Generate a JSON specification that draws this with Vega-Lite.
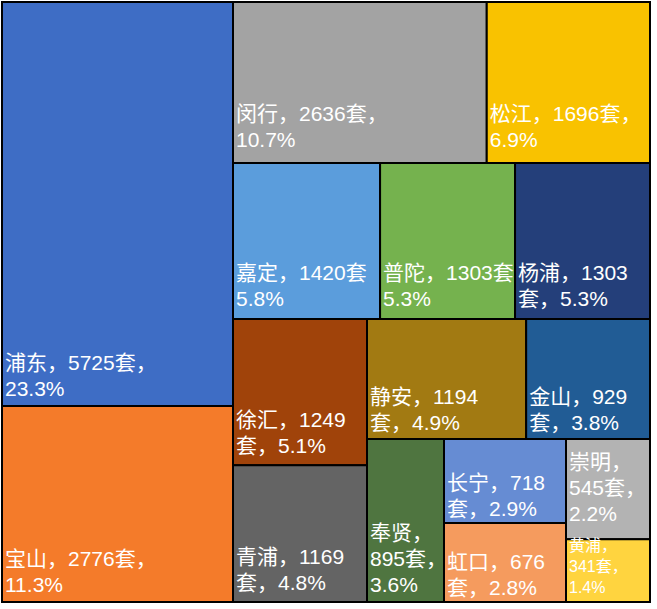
{
  "$schema": "https://vega.github.io/schema/vega-lite/v6.json",
  "padding": {"left": 1, "top": 1, "right": 0, "bottom": 0},
  "background": "white",
  "config": {"view": {"stroke": null}, "concat": {"spacing": 0}},
  "datasets": {
    "d": [
      {"name": "浦东", "strip": "A", "count": 5725, "label": "浦东，5725套，\n23.3%"},
      {"name": "宝山", "strip": "A", "count": 2776, "label": "宝山，2776套，\n11.3%"},
      {"name": "闵行", "strip": "B", "count": 2636, "label": "闵行，2636套，\n10.7%"},
      {"name": "松江", "strip": "B", "count": 1696, "label": "松江，1696套，\n6.9%"},
      {"name": "嘉定", "strip": "C", "count": 1420, "label": "嘉定，1420套\n5.8%"},
      {"name": "普陀", "strip": "C", "count": 1303, "label": "普陀，1303套\n5.3%"},
      {"name": "杨浦", "strip": "C", "count": 1303, "label": "杨浦，1303\n套，5.3%"},
      {"name": "徐汇", "strip": "D", "count": 1249, "label": "徐汇，1249\n套，5.1%"},
      {"name": "青浦", "strip": "D", "count": 1169, "label": "青浦，1169\n套，4.8%"},
      {"name": "静安", "strip": "E", "count": 1194, "label": "静安，1194\n套，4.9%"},
      {"name": "金山", "strip": "E", "count": 929, "label": "金山，929\n套，3.8%"},
      {"name": "奉贤", "strip": "F", "count": 895, "label": "奉贤，\n895套，\n3.6%"},
      {"name": "长宁", "strip": "G", "count": 718, "label": "长宁，718\n套，2.9%"},
      {"name": "虹口", "strip": "G", "count": 676, "label": "虹口，676\n套，2.8%"},
      {"name": "崇明", "strip": "H", "count": 545, "label": "崇明，\n545套，\n2.2%"},
      {"name": "黄浦", "strip": "H", "count": 341, "label": "黄浦，\n341套，\n1.4%"}
    ]
  },
  "data": {"name": "d"},
  "spacing": 0,
  "bounds": "flush",
  "hconcat": [
    {
      "width": 231, "height": 600,
      "transform": [{"filter": "datum.strip === 'A'"}, {"stack": "count", "groupby": ["strip"], "sort": [{"field": "count", "order": "descending"}, {"field": "name", "order": "ascending"}], "offset": "normalize", "as": ["v0", "v1"]}],
      "layer": [
        {"mark": {"type": "rect", "stroke": "#000", "strokeWidth": 2},
         "encoding": {"x": {"datum": 0, "type": "quantitative", "scale": {"domain": [0, 1]}, "axis": null}, "x2": {"datum": 1},
           "y": {"field": "v0", "type": "quantitative", "scale": {"domain": [0, 1], "reverse": true}, "axis": null}, "y2": {"field": "v1"},
           "color": {"field": "name", "type": "nominal", "legend": null, "scale": {"domain": ["浦东","宝山","闵行","松江","嘉定","普陀","杨浦","徐汇","青浦","静安","金山","奉贤","长宁","虹口","崇明","黄浦"], "range": ["#3E6DC5","#F47B2A","#A3A3A3","#F9C200","#5B9DDC","#75B24E","#243F7A","#A0430A","#646464","#A27A12","#215C95","#4F7540","#668CD3","#F59B5E","#B3B3B3","#FFD43F"]}}}},
        {"mark": {"type": "text", "color": "#fff", "align": "left", "baseline": "bottom", "dx": 3, "dy": -32, "fontSize": 21, "lineHeight": 26, "lineBreak": "\n", "font": "Liberation Sans, Noto Sans CJK SC"},
         "encoding": {"x": {"datum": 0, "type": "quantitative"}, "y": {"field": "v1", "type": "quantitative"}, "text": {"field": "label"}}}
      ]
    },
    {
      "spacing": 0, "bounds": "flush",
      "vconcat": [
        {
          "width": 417, "height": 161,
          "transform": [{"filter": "datum.strip === 'B'"}, {"stack": "count", "groupby": ["strip"], "sort": [{"field": "count", "order": "descending"}, {"field": "name", "order": "ascending"}], "offset": "normalize", "as": ["v0", "v1"]}],
          "layer": [
            {"mark": {"type": "rect", "stroke": "#000", "strokeWidth": 2},
             "encoding": {"x": {"field": "v0", "type": "quantitative", "scale": {"domain": [0, 1]}, "axis": null}, "x2": {"field": "v1"},
               "y": {"datum": 0, "type": "quantitative", "scale": {"domain": [0, 1]}, "axis": null}, "y2": {"datum": 1},
               "color": {"field": "name", "type": "nominal", "legend": null, "scale": {"domain": ["浦东","宝山","闵行","松江","嘉定","普陀","杨浦","徐汇","青浦","静安","金山","奉贤","长宁","虹口","崇明","黄浦"], "range": ["#3E6DC5","#F47B2A","#A3A3A3","#F9C200","#5B9DDC","#75B24E","#243F7A","#A0430A","#646464","#A27A12","#215C95","#4F7540","#668CD3","#F59B5E","#B3B3B3","#FFD43F"]}}}},
            {"mark": {"type": "text", "color": "#fff", "align": "left", "baseline": "bottom", "dx": 3, "dy": -38, "fontSize": 21, "lineHeight": 26, "lineBreak": "\n", "font": "Liberation Sans, Noto Sans CJK SC"},
             "encoding": {"x": {"field": "v0", "type": "quantitative"}, "y": {"datum": 0, "type": "quantitative"}, "text": {"field": "label"}}}
          ]
        },
        {
          "width": 417, "height": 156,
          "transform": [{"filter": "datum.strip === 'C'"}, {"stack": "count", "groupby": ["strip"], "sort": [{"field": "count", "order": "descending"}, {"field": "name", "order": "ascending"}], "offset": "normalize", "as": ["v0", "v1"]}],
          "layer": [
            {"mark": {"type": "rect", "stroke": "#000", "strokeWidth": 2},
             "encoding": {"x": {"field": "v0", "type": "quantitative", "scale": {"domain": [0, 1]}, "axis": null}, "x2": {"field": "v1"},
               "y": {"datum": 0, "type": "quantitative", "scale": {"domain": [0, 1]}, "axis": null}, "y2": {"datum": 1},
               "color": {"field": "name", "type": "nominal", "legend": null, "scale": {"domain": ["浦东","宝山","闵行","松江","嘉定","普陀","杨浦","徐汇","青浦","静安","金山","奉贤","长宁","虹口","崇明","黄浦"], "range": ["#3E6DC5","#F47B2A","#A3A3A3","#F9C200","#5B9DDC","#75B24E","#243F7A","#A0430A","#646464","#A27A12","#215C95","#4F7540","#668CD3","#F59B5E","#B3B3B3","#FFD43F"]}}}},
            {"mark": {"type": "text", "color": "#fff", "align": "left", "baseline": "bottom", "dx": 3, "dy": -35, "fontSize": 21, "lineHeight": 26, "lineBreak": "\n", "font": "Liberation Sans, Noto Sans CJK SC"},
             "encoding": {"x": {"field": "v0", "type": "quantitative"}, "y": {"datum": 0, "type": "quantitative"}, "text": {"field": "label"}}}
          ]
        },
        {
          "spacing": 0, "bounds": "flush",
          "hconcat": [
            {
              "width": 134, "height": 283,
              "transform": [{"filter": "datum.strip === 'D'"}, {"stack": "count", "groupby": ["strip"], "sort": [{"field": "count", "order": "descending"}, {"field": "name", "order": "ascending"}], "offset": "normalize", "as": ["v0", "v1"]}],
              "layer": [
                {"mark": {"type": "rect", "stroke": "#000", "strokeWidth": 2},
                 "encoding": {"x": {"datum": 0, "type": "quantitative", "scale": {"domain": [0, 1]}, "axis": null}, "x2": {"datum": 1},
                   "y": {"field": "v0", "type": "quantitative", "scale": {"domain": [0, 1], "reverse": true}, "axis": null}, "y2": {"field": "v1"},
                   "color": {"field": "name", "type": "nominal", "legend": null, "scale": {"domain": ["浦东","宝山","闵行","松江","嘉定","普陀","杨浦","徐汇","青浦","静安","金山","奉贤","长宁","虹口","崇明","黄浦"], "range": ["#3E6DC5","#F47B2A","#A3A3A3","#F9C200","#5B9DDC","#75B24E","#243F7A","#A0430A","#646464","#A27A12","#215C95","#4F7540","#668CD3","#F59B5E","#B3B3B3","#FFD43F"]}}}},
                {"mark": {"type": "text", "color": "#fff", "align": "left", "baseline": "bottom", "dx": 3, "dy": -34, "fontSize": 21, "lineHeight": 26, "lineBreak": "\n", "font": "Liberation Sans, Noto Sans CJK SC"},
                 "encoding": {"x": {"datum": 0, "type": "quantitative"}, "y": {"field": "v1", "type": "quantitative"}, "text": {"field": "label"}}}
              ]
            },
            {
              "spacing": 0, "bounds": "flush",
              "vconcat": [
                {
                  "width": 283, "height": 120,
                  "transform": [{"filter": "datum.strip === 'E'"}, {"stack": "count", "groupby": ["strip"], "sort": [{"field": "count", "order": "descending"}, {"field": "name", "order": "ascending"}], "offset": "normalize", "as": ["v0", "v1"]}],
                  "layer": [
                    {"mark": {"type": "rect", "stroke": "#000", "strokeWidth": 2},
                     "encoding": {"x": {"field": "v0", "type": "quantitative", "scale": {"domain": [0, 1]}, "axis": null}, "x2": {"field": "v1"},
                       "y": {"datum": 0, "type": "quantitative", "scale": {"domain": [0, 1]}, "axis": null}, "y2": {"datum": 1},
                       "color": {"field": "name", "type": "nominal", "legend": null, "scale": {"domain": ["浦东","宝山","闵行","松江","嘉定","普陀","杨浦","徐汇","青浦","静安","金山","奉贤","长宁","虹口","崇明","黄浦"], "range": ["#3E6DC5","#F47B2A","#A3A3A3","#F9C200","#5B9DDC","#75B24E","#243F7A","#A0430A","#646464","#A27A12","#215C95","#4F7540","#668CD3","#F59B5E","#B3B3B3","#FFD43F"]}}}},
                    {"mark": {"type": "text", "color": "#fff", "align": "left", "baseline": "bottom", "dx": 3, "dy": -31, "fontSize": 21, "lineHeight": 26, "lineBreak": "\n", "font": "Liberation Sans, Noto Sans CJK SC"},
                     "encoding": {"x": {"field": "v0", "type": "quantitative"}, "y": {"datum": 0, "type": "quantitative"}, "text": {"field": "label"}}}
                  ]
                },
                {
                  "spacing": 0, "bounds": "flush",
                  "hconcat": [
                    {
                      "width": 77, "height": 163,
                      "transform": [{"filter": "datum.strip === 'F'"}, {"stack": "count", "groupby": ["strip"], "sort": [{"field": "count", "order": "descending"}, {"field": "name", "order": "ascending"}], "offset": "normalize", "as": ["v0", "v1"]}],
                      "layer": [
                        {"mark": {"type": "rect", "stroke": "#000", "strokeWidth": 2},
                         "encoding": {"x": {"datum": 0, "type": "quantitative", "scale": {"domain": [0, 1]}, "axis": null}, "x2": {"datum": 1},
                           "y": {"field": "v0", "type": "quantitative", "scale": {"domain": [0, 1], "reverse": true}, "axis": null}, "y2": {"field": "v1"},
                           "color": {"field": "name", "type": "nominal", "legend": null, "scale": {"domain": ["浦东","宝山","闵行","松江","嘉定","普陀","杨浦","徐汇","青浦","静安","金山","奉贤","长宁","虹口","崇明","黄浦"], "range": ["#3E6DC5","#F47B2A","#A3A3A3","#F9C200","#5B9DDC","#75B24E","#243F7A","#A0430A","#646464","#A27A12","#215C95","#4F7540","#668CD3","#F59B5E","#B3B3B3","#FFD43F"]}}}},
                        {"mark": {"type": "text", "color": "#fff", "align": "left", "baseline": "bottom", "dx": 3, "dy": -58, "fontSize": 21, "lineHeight": 26, "lineBreak": "\n", "font": "Liberation Sans, Noto Sans CJK SC"},
                         "encoding": {"x": {"datum": 0, "type": "quantitative"}, "y": {"field": "v1", "type": "quantitative"}, "text": {"field": "label"}}}
                      ]
                    },
                    {
                      "width": 122, "height": 163,
                      "transform": [{"filter": "datum.strip === 'G'"}, {"stack": "count", "groupby": ["strip"], "sort": [{"field": "count", "order": "descending"}, {"field": "name", "order": "ascending"}], "offset": "normalize", "as": ["v0", "v1"]}],
                      "layer": [
                        {"mark": {"type": "rect", "stroke": "#000", "strokeWidth": 2},
                         "encoding": {"x": {"datum": 0, "type": "quantitative", "scale": {"domain": [0, 1]}, "axis": null}, "x2": {"datum": 1},
                           "y": {"field": "v0", "type": "quantitative", "scale": {"domain": [0, 1], "reverse": true}, "axis": null}, "y2": {"field": "v1"},
                           "color": {"field": "name", "type": "nominal", "legend": null, "scale": {"domain": ["浦东","宝山","闵行","松江","嘉定","普陀","杨浦","徐汇","青浦","静安","金山","奉贤","长宁","虹口","崇明","黄浦"], "range": ["#3E6DC5","#F47B2A","#A3A3A3","#F9C200","#5B9DDC","#75B24E","#243F7A","#A0430A","#646464","#A27A12","#215C95","#4F7540","#668CD3","#F59B5E","#B3B3B3","#FFD43F"]}}}},
                        {"mark": {"type": "text", "color": "#fff", "align": "left", "baseline": "bottom", "dx": 3, "dy": -29, "fontSize": 21, "lineHeight": 26, "lineBreak": "\n", "font": "Liberation Sans, Noto Sans CJK SC"},
                         "encoding": {"x": {"datum": 0, "type": "quantitative"}, "y": {"field": "v1", "type": "quantitative"}, "text": {"field": "label"}}}
                      ]
                    },
                    {
                      "width": 84, "height": 163,
                      "transform": [{"filter": "datum.strip === 'H'"}, {"stack": "count", "groupby": ["strip"], "sort": [{"field": "count", "order": "descending"}, {"field": "name", "order": "ascending"}], "offset": "normalize", "as": ["v0", "v1"]}],
                      "layer": [
                        {"mark": {"type": "rect", "stroke": "#000", "strokeWidth": 2},
                         "encoding": {"x": {"datum": 0, "type": "quantitative", "scale": {"domain": [0, 1]}, "axis": null}, "x2": {"datum": 1},
                           "y": {"field": "v0", "type": "quantitative", "scale": {"domain": [0, 1], "reverse": true}, "axis": null}, "y2": {"field": "v1"},
                           "color": {"field": "name", "type": "nominal", "legend": null, "scale": {"domain": ["浦东","宝山","闵行","松江","嘉定","普陀","杨浦","徐汇","青浦","静安","金山","奉贤","长宁","虹口","崇明","黄浦"], "range": ["#3E6DC5","#F47B2A","#A3A3A3","#F9C200","#5B9DDC","#75B24E","#243F7A","#A0430A","#646464","#A27A12","#215C95","#4F7540","#668CD3","#F59B5E","#B3B3B3","#FFD43F"]}}}},
                        {"transform": [{"filter": "datum.count >= 400"}],
                         "mark": {"type": "text", "color": "#fff", "align": "left", "baseline": "bottom", "dx": 3, "dy": -66, "fontSize": 21, "lineHeight": 26, "lineBreak": "\n", "font": "Liberation Sans, Noto Sans CJK SC"},
                         "encoding": {"x": {"datum": 0, "type": "quantitative"}, "y": {"field": "v1", "type": "quantitative"}, "text": {"field": "label"}}},
                        {"transform": [{"filter": "datum.count < 400"}],
                         "mark": {"type": "text", "color": "#fff", "align": "left", "baseline": "bottom", "dx": 3, "dy": -48, "fontSize": 16, "lineHeight": 21, "lineBreak": "\n", "font": "Liberation Sans, Noto Sans CJK SC"},
                         "encoding": {"x": {"datum": 0, "type": "quantitative"}, "y": {"field": "v1", "type": "quantitative"}, "text": {"field": "label"}}}
                      ]
                    }
                  ]
                }
              ]
            }
          ]
        }
      ]
    }
  ]
}
